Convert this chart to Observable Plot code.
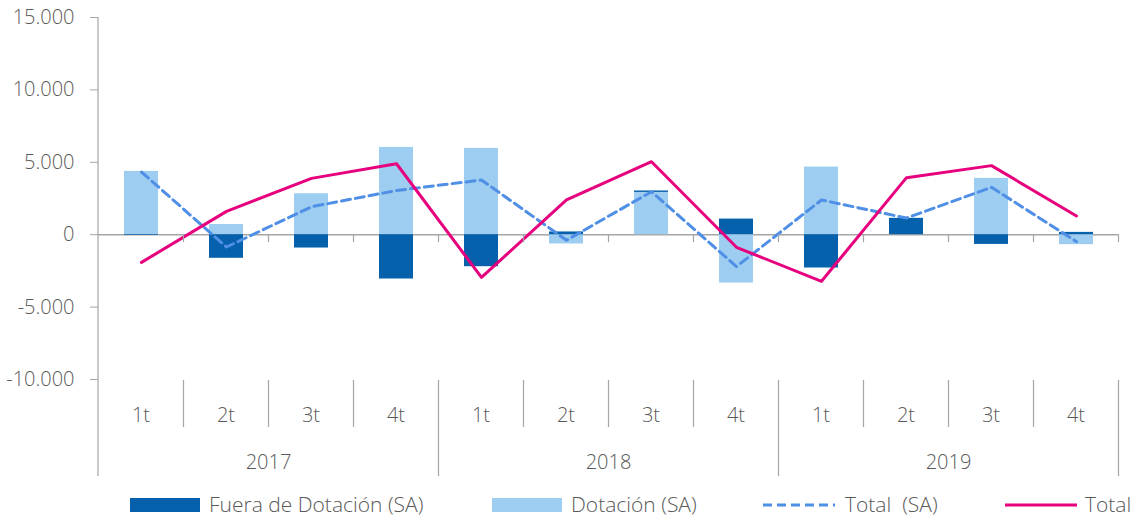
<!DOCTYPE html>
<html><head><meta charset="utf-8">
<script src="https://cdn.jsdelivr.net/npm/d3@7"></script>
<script src="https://cdn.jsdelivr.net/npm/@observablehq/plot@0.6"></script>
<style>
body{margin:0;background:#fff;font-family:"Open Sans",sans-serif;font-weight:300;}
#wrap{position:relative;width:1136px;height:520px;overflow:hidden;}
#legend{position:absolute;left:0;top:488px;width:1136px;height:32px;}
.item{position:absolute;top:0;height:32px;display:flex;align-items:center;font-size:21px;color:#595959;white-space:pre;}
.sw{position:absolute;}
</style></head><body><div id="wrap"><div id="chart"></div><div id="legend"></div></div>
<script>
const years = ["2017", "2018", "2019"];
const quarters = ["1t", "2t", "3t", "4t"];
const seriesNames = ["Fuera de Dotación (SA)", "Dotación (SA)", "Total  (SA)", "Total"];
const seriesColors = ["#0561ac", "#9dcdf0", "#4f8fe6", "#e6007e"];
const fuera    = [-50, -1630, -920, -3060, -2210, 190, 100, 1080, -2300, 1130, -670, 160];
const dotacion = [4370, 700, 2830, 6030, 5960, -640, 2920, -3340, 4670, 0, 3890, -690];
const totalSA  = [4330, -850, 1930, 3050, 3780, -380, 2970, -2200, 2400, 1150, 3270, -480];
const total    = [-1910, 1610, 3890, 4900, -2950, 2400, 5040, -870, -3220, 3940, 4770, 1290];
const yTicks = [-10000, -5000, 0, 5000, 10000, 15000];

const keys = years.flatMap(y => quarters.map(q => y + "|" + q));
const barData = [
  ...keys.map((k, i) => ({k, s: seriesNames[1], v: dotacion[i]})),
  ...keys.map((k, i) => ({k, s: seriesNames[0], v: fuera[i]}))
];
const lineSA = keys.map((k, i) => ({k, v: totalSA[i]}));
const lineT = keys.map((k, i) => ({k, v: total[i]}));
const fmt = d => (d < 0 ? "-" : "") + d3.format(",")(Math.abs(d)).replace(/,/g, ".");

const W = 1136, H = 488;
const FONT = "'Open Sans', sans-serif";
const TXT = "#595959", AX = "#a6a6a6";

const plot = Plot.plot({
  width: W, height: H,
  marginLeft: 98, marginRight: 18, marginTop: 17, marginBottom: H - 379,
  style: {fontFamily: FONT, fontSize: "20px", color: TXT, background: "white", fontWeight: 300},
  x: {domain: keys, paddingInner: 0.6, paddingOuter: 0.3, axis: null},
  y: {domain: [-10000, 15000], ticks: yTicks, tickFormat: fmt, tickSize: 8, tickPadding: 16, label: null},
  color: {domain: seriesNames.slice(0, 2), range: seriesColors.slice(0, 2)},
  marks: [
    Plot.ruleY([0], {stroke: AX, strokeWidth: 1.5}),
    Plot.barY(barData, {x: "k", y: "v", fill: "s"}),
    Plot.lineY(lineSA, {x: "k", y: "v", stroke: seriesColors[2], strokeWidth: 3, strokeDasharray: "9,5"}),
    Plot.lineY(lineT, {x: "k", y: "v", stroke: seriesColors[3], strokeWidth: 3})
  ]
});
document.getElementById("chart").appendChild(plot);

const svg = d3.select(plot);
svg.selectAll('g[aria-label="y-axis tick"]').attr("stroke", AX);
svg.selectAll('g[aria-label^="y-axis"] line, .tick line').attr("stroke", AX);

const xs = plot.scale("x"), ys = plot.scale("y");
const bw = xs.bandwidth;
const step = xs.apply(keys[1]) - xs.apply(keys[0]);
const cx = k => xs.apply(k) + bw / 2;
const y0 = ys.apply(0);
const yb = ys.range[0];
const yEnd = H - 12;
const g = svg.append("g").attr("stroke", AX).attr("stroke-width", 1.2);
const x0 = xs.range[0];
g.append("line").attr("x1", x0).attr("x2", x0).attr("y1", ys.range[1]).attr("y2", yEnd);
keys.forEach((k, i) => {
  const bx = cx(k) + step / 2;
  g.append("line").attr("x1", bx).attr("x2", bx).attr("y1", y0).attr("y2", y0 + 8);
  const isYear = i % 4 === 3;
  g.append("line").attr("x1", bx).attr("x2", bx).attr("y1", yb + 1).attr("y2", isYear ? yEnd : yb + 48);
});
const tg = svg.append("g").attr("fill", TXT).attr("font-family", FONT).attr("font-size", 20)
  .attr("font-weight", 300).attr("text-anchor", "middle");
keys.forEach(k => {
  tg.append("text").attr("x", cx(k)).attr("y", yb + 36).attr("dy", "0.35em").text(k.split("|")[1]);
});
years.forEach(y => {
  const xm = cx(y + "|2t") + step / 2;
  tg.append("text").attr("x", xm).attr("y", yb + 83).attr("dy", "0.35em").text(y);
});

// legend
const legend = document.getElementById("legend");
const legendPos = [[130, 209], [492, 571], [763, 845], [1005, 1085]];
seriesNames.forEach((name, i) => {
  const [sx, tx] = legendPos[i];
  const sw = document.createElementNS("http://www.w3.org/2000/svg", "svg");
  sw.setAttribute("class", "sw");
  sw.setAttribute("width", 72); sw.setAttribute("height", 32);
  sw.style.left = sx + "px"; sw.style.top = "0px";
  if (i < 2) {
    sw.innerHTML = `<rect x="0" y="10" width="70" height="14" fill="${seriesColors[i]}"/>`;
  } else {
    sw.innerHTML = `<line x1="0" x2="72" y1="17" y2="17" stroke="${seriesColors[i]}" stroke-width="3" ${i === 2 ? 'stroke-dasharray="9,5"' : ''}/>`;
  }
  legend.appendChild(sw);
  const t = document.createElement("div");
  t.className = "item"; t.style.left = tx + "px"; t.textContent = name;
  legend.appendChild(t);
});
</script></body></html>
